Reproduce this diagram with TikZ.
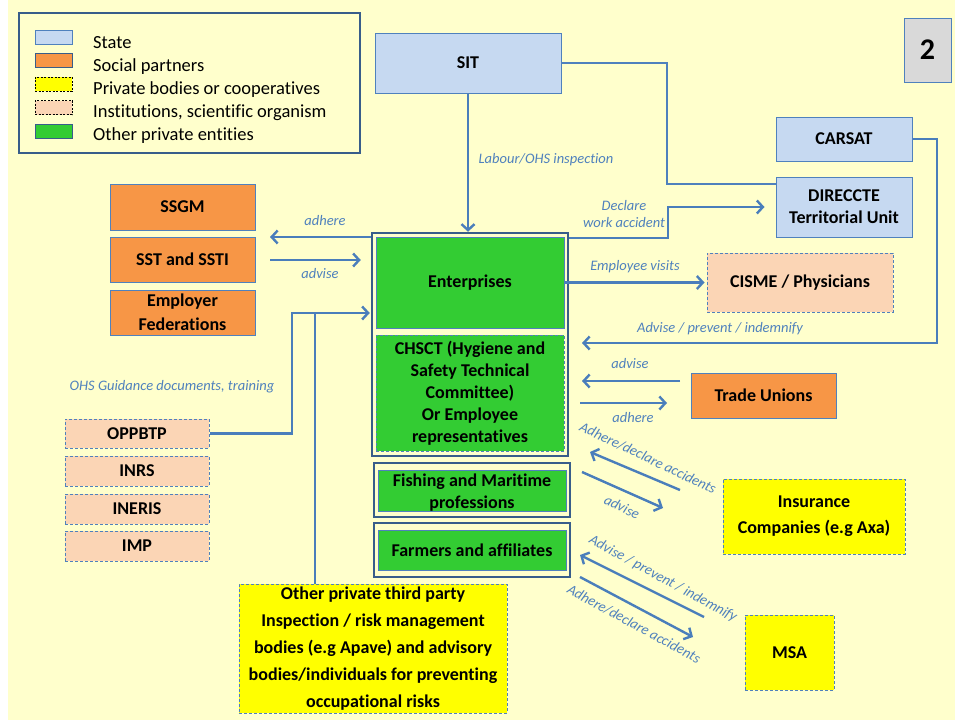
\documentclass[tikz,border=0pt]{standalone}
\usepackage{fontspec}
\setmainfont{Carlito}[Ligatures={NoCommon}]
\usetikzlibrary{arrows.meta}
\definecolor{bg}{HTML}{FFFFCC}
\definecolor{stateF}{HTML}{C6D9F1}
\definecolor{edge}{HTML}{4F81BD}
\definecolor{dark}{HTML}{385D8A}
\definecolor{orangeF}{HTML}{F79646}
\definecolor{instF}{HTML}{FBD5B5}
\definecolor{greenF}{HTML}{33CC33}
\definecolor{yellowF}{HTML}{FFFF00}
\definecolor{greyF}{HTML}{D9D9D9}
\definecolor{arr}{HTML}{4A7EBB}
\definecolor{lbl}{HTML}{4F81BD}
\begin{document}
\begin{tikzpicture}[x=1pt,y=-1pt,
  box/.style={draw=edge, line width=1pt, inner sep=0pt, align=center,
    font=\fontsize{18}{22}\selectfont\bfseries},
  statebox/.style={box, fill=stateF},
  socialbox/.style={box, fill=orangeF},
  privbox/.style={box, fill=yellowF, dash pattern=on 3pt off 2pt},
  instbox/.style={box, fill=instF, dash pattern=on 3pt off 2pt},
  greenbox/.style={box, fill=greenF},
  outerbox/.style={draw=dark, line width=2.5pt, fill=bg, inner sep=0pt},
  conn/.style={draw=arr, line width=2.4pt, -{Straight Barb[length=6pt,width=13pt]}},
  thinconn/.style={draw=edge, line width=1.1pt},
  plain/.style={draw=arr, line width=2.4pt},
  lab/.style={font=\fontsize{14.5}{17}\selectfont\itshape, text=lbl, inner sep=0pt, align=center},
  legtext/.style={font=\fontsize{18.5}{20}\selectfont, anchor=west, inner sep=0pt},
  swatch/.style={draw=#1, line width=1pt, minimum width=37pt, minimum height=14pt, inner sep=0pt}
]
% background
\fill[white] (0,0) rectangle (955,720);
\fill[bg] (8,0) rectangle (955,720);
\useasboundingbox (0,0) rectangle (955,720);

% legend
\node[draw=dark, line width=1.2pt, minimum width=341pt, minimum height=140pt, inner sep=0pt] (legend) at (189.5,83) {};
\node[swatch=edge, fill=stateF] (sw1) at (53.5,37.5) {};
\node[swatch=dark, fill=orangeF] (sw2) at (53.5,60.5) {};
\node[swatch=black, fill=yellowF, dash pattern=on 2pt off 1.5pt] (sw3) at (53.5,84) {};
\node[swatch=black, fill=instF, dash pattern=on 2pt off 1.5pt] (sw4) at (53.5,107.5) {};
\node[swatch=dark, fill=greenF] (sw5) at (53.5,131) {};
\node[legtext] (lt1) at (93,42.5) {State};
\node[legtext] (lt2) at (93,66.5) {Social partners};
\node[legtext] (lt3) at (93,89.5) {Private bodies or cooperatives};
\node[legtext] (lt4) at (93,112.5) {Institutions, scientific organism};
\node[legtext] (lt5) at (93,136) {Other private entities};

% number box
\node[draw=edge, fill=greyF, line width=1pt, minimum width=47pt, minimum height=64pt, inner sep=0pt,
  font=\fontsize{30}{30}\selectfont\bfseries] (num) at (927.5,50) {2};

% state
\node[statebox, minimum width=186pt, minimum height=60pt] (sit) at (468,63) {SIT};
\node[statebox, minimum width=136pt, minimum height=44pt] (carsat) at (844,139) {CARSAT};
\node[statebox, minimum width=136pt, minimum height=60pt] (direccte) at (844,207) {DIRECCTE\\Territorial Unit};

% social partners
\node[socialbox, minimum width=145pt, minimum height=46pt] (ssgm) at (182.5,207) {SSGM};
\node[socialbox, minimum width=145pt, minimum height=45pt] (sst) at (182.5,259.5) {SST and SSTI};
\node[socialbox, minimum width=145pt, minimum height=45pt,
  font=\fontsize{18}{24}\selectfont\bfseries] (empfed) at (182.5,312.5) {Employer\\Federations};
\node[socialbox, minimum width=145pt, minimum height=45pt] (trade) at (763.5,395.5) {Trade Unions};

% enterprises block
\node[outerbox, minimum width=196pt, minimum height=223pt] (entouter) at (470,344.5) {};
\node[greenbox, minimum width=188pt, minimum height=91pt] (ent) at (470,282.5) {Enterprises};
\node[greenbox, dash pattern=on 3pt off 2pt, minimum width=188pt, minimum height=116pt]
  (chsct) at (470,393) {CHSCT (Hygiene and\\Safety Technical\\Committee)\\Or Employee\\representatives};
\node[outerbox, minimum width=196pt, minimum height=54pt] (fishouter) at (472,490) {};
\node[greenbox, minimum width=188pt, minimum height=41pt] (fish) at (472,490.5) {};
\node[font=\fontsize{18}{22}\selectfont\bfseries, align=center, inner sep=0pt] (fishtext) at (472,493) {Fishing and Maritime\\professions};
\node[outerbox, minimum width=196pt, minimum height=54pt] (farmouter) at (472,550) {};
\node[greenbox, minimum width=188pt, minimum height=40pt] (farm) at (472,550) {Farmers and affiliates};

% institutions
\node[instbox, minimum width=186pt, minimum height=59pt] (cisme) at (800,282.5) {CISME / Physicians};
\node[instbox, minimum width=144pt, minimum height=29pt] (oppbtp) at (137,433.5) {OPPBTP};
\node[instbox, minimum width=144pt, minimum height=30pt] (inrs) at (137,471) {INRS};
\node[instbox, minimum width=144pt, minimum height=30pt] (ineris) at (137,509) {INERIS};
\node[instbox, minimum width=144pt, minimum height=30pt] (imp) at (137,546) {IMP};

% private bodies
\node[privbox, minimum width=182pt, minimum height=75pt,
  font=\fontsize{18}{26}\selectfont\bfseries] (insur) at (814,516.5) {Insurance\\Companies (e.g Axa)};
\node[privbox, minimum width=89pt, minimum height=75pt] (msa) at (789.5,652.5) {MSA};
\node[privbox, minimum width=268pt, minimum height=129pt,
  font=\fontsize{18}{27}\selectfont\bfseries] (other) at (373,648.5)
  {Other private third party\\Inspection / risk management\\bodies (e.g Apave) and advisory\\bodies/individuals for preventing\\occupational risks};

% coordinates
\coordinate (j1) at (667,184);
\coordinate (j2) at (668,238);
\coordinate (a1) at (270,237);
\coordinate (a2) at (270,260);
\coordinate (c1) at (937,343);
\coordinate (c2) at (582,343);
\coordinate (t1) at (680,381);
\coordinate (t2) at (582,381);
\coordinate (t3) at (580,403);
\coordinate (t4) at (667,403);
\coordinate (i1) at (680,490);
\coordinate (i2) at (590,452);
\coordinate (i3) at (582,472);
\coordinate (i4) at (663,508);
\coordinate (m1) at (704,617);
\coordinate (m2) at (580,555);
\coordinate (m3) at (580,577);
\coordinate (m4) at (693,637);
\coordinate (o1) at (292,313);
\coordinate (o2) at (315,313);

% connectors
\draw[conn] (sit.south) -- (sit.south |- entouter.north);
\draw[thinconn] (sit.east) -| (j1) -- (j1 -| direccte.west);
\draw[conn] (j2 -| entouter.east) -- (j2) |- ([xshift=-11pt]direccte.west);
\draw[conn] (a1 -| entouter.west) -- (a1);
\draw[conn] (a2) -- ([xshift=-10pt]a2 -| entouter.west);
\draw[conn] (ent.east) -- ([xshift=-2pt]cisme.west);
\draw[conn] (carsat.east) -| (c1) -- (c2);
\draw[conn] (t1) -- (t2);
\draw[conn] (t3) -- (t4);
\draw[conn] (i1) -- (i2);
\draw[conn] (i3) -- (i4);
\draw[conn] (m1) -- (m2);
\draw[conn] (m3) -- (m4);
\draw[conn] (oppbtp.east) -| (o1) -- ([xshift=-1pt]o1 -| entouter.west);
\draw[plain] (other.north -| o2) -- (o2);

% labels
\node[lab] (l1) at (546,160) {Labour/OHS inspection};
\node[lab] (l2) at (624,214) {Declare\\work accident};
\node[lab] (l3) at (325,221) {adhere};
\node[lab] (l4) at (320,274) {advise};
\node[lab] (l5) at (635,267) {Employee visits};
\node[lab] (l6) at (720,329) {Advise / prevent / indemnify};
\node[lab] (l7) at (630,364) {advise};
\node[lab] (l8) at (633,418) {adhere};
\node[lab, rotate=-25.5] (l9) at (648,458) {Adhere/declare accidents};
\node[lab, rotate=-25.5] (l10) at (622,507) {advise};
\node[lab, rotate=-28.5] (l11) at (663,579) {Advise / prevent / indemnify};
\node[lab, rotate=-28.5] (l12) at (634,624) {Adhere/declare accidents};
\node[lab] (l13) at (172,387) {OHS Guidance documents, training};
\end{tikzpicture}
\end{document}
